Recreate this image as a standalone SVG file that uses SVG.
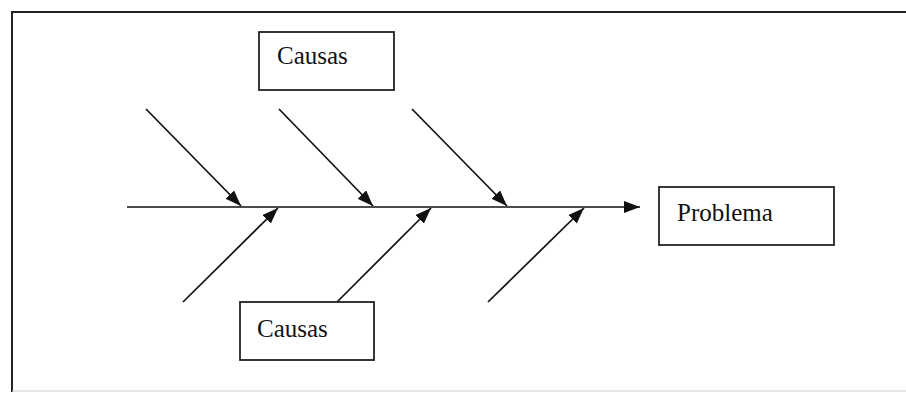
<svg xmlns="http://www.w3.org/2000/svg" width="906" height="395" viewBox="0 0 906 395">
<style>
.box{fill:#fff;stroke:#222;stroke-width:1.8}
.lbl{font-family:"Liberation Serif","Times New Roman",serif;font-size:25px;fill:#111}
.ln{stroke:#111;stroke-width:1.7;fill:none}
</style>
<defs>
<marker id="ah" viewBox="0 0 16 12" refX="16" refY="6" markerWidth="16" markerHeight="12" markerUnits="userSpaceOnUse" orient="auto">
<path d="M0,0 L16,6 L0,12 Z" fill="#111"/>
</marker>
</defs>
<rect width="906" height="395" fill="#fff"/>
<g id="frame">
<path d="M12,392 L12,12 L906,12" stroke="#222" stroke-width="2" fill="none"/>
<path d="M12,391 L906,391" stroke="#ccc" stroke-width="1" fill="none"/>
</g>
<g id="connectors">
<line class="ln" x1="127" y1="207" x2="640" y2="207" marker-end="url(#ah)" stroke-width="2.2"/>
<line class="ln" x1="146" y1="109" x2="241" y2="206" marker-end="url(#ah)"/>
<line class="ln" x1="279" y1="109" x2="373" y2="206" marker-end="url(#ah)"/>
<line class="ln" x1="412" y1="109" x2="507" y2="206" marker-end="url(#ah)"/>
<line class="ln" x1="183" y1="302" x2="278" y2="208" marker-end="url(#ah)"/>
<line class="ln" x1="337" y1="302" x2="431" y2="208" marker-end="url(#ah)"/>
<line class="ln" x1="488" y1="302" x2="584" y2="208" marker-end="url(#ah)"/>
</g>
<g id="causas-top">
<rect class="box" x="259" y="32" width="135" height="58"/>
<text class="lbl" x="277" y="64">Causas</text>
</g>
<g id="problema">
<rect class="box" x="659" y="187" width="175" height="58"/>
<text class="lbl" x="677" y="221">Problema</text>
</g>
<g id="causas-bottom">
<rect class="box" x="240" y="302" width="134" height="58"/>
<text class="lbl" x="257" y="337">Causas</text>
</g>
</svg>
